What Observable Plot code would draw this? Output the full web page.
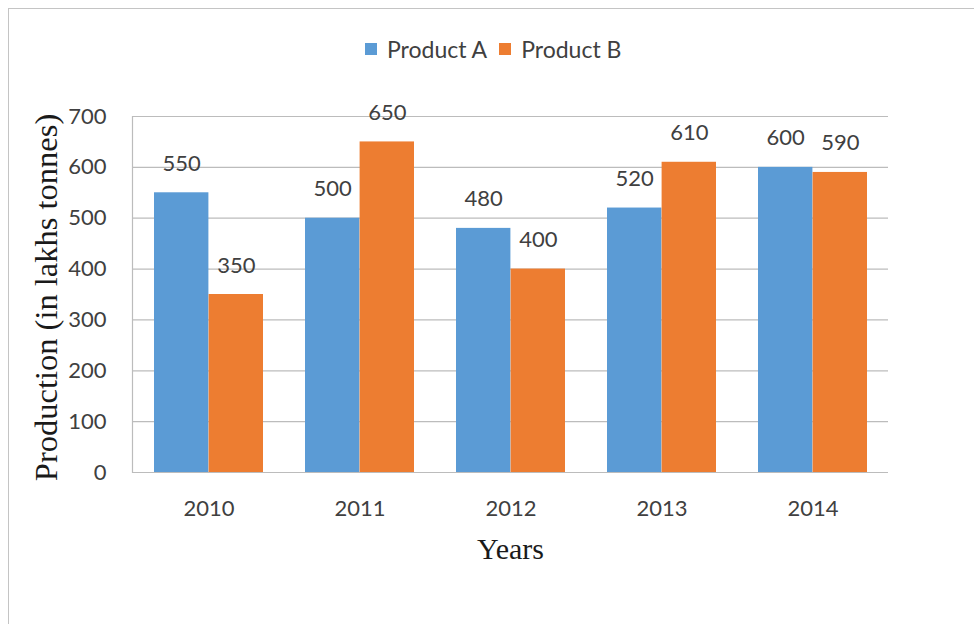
<!DOCTYPE html>
<html>
<head>
<meta charset="utf-8">
<script src="https://cdn.jsdelivr.net/npm/d3@7"></script>
<script src="https://cdn.jsdelivr.net/npm/@observablehq/plot@0.6"></script>
<style>
  html, body { margin: 0; padding: 0; background: #fff; }
  #wrap { position: relative; width: 974px; height: 624px; overflow: hidden; }
  #border { position: absolute; left: 8px; top: 8px; width: 1000px; height: 1000px;
            border-top: 1.5px solid #c4c4c4; border-left: 1.5px solid #c4c4c4; }
  #legend { position: absolute; left: 365px; top: 34px; height: 30px; display: flex; align-items: center;
            font-family: Lato, "Open Sans", sans-serif; font-size: 23px; color: #404040; }
  .sw { display: inline-block; width: 12px; height: 12px; margin-right: 10px; }
  .item { display: flex; align-items: center; margin-right: 12px; }
  #chart { position: absolute; left: 0; top: 96px; }
</style>
</head>
<body>
<div id="wrap">
  <div id="border"></div>
  <div id="legend"></div>
  <div id="chart"></div>
</div>
<script>
const years = ["2010", "2011", "2012", "2013", "2014"];
const productA = [550, 500, 480, 520, 600];
const productB = [350, 650, 400, 610, 590];
const seriesNames = ["Product A", "Product B"];
const seriesColors = ["#5B9BD5", "#ED7D31"];
const yTicks = [0, 100, 200, 300, 400, 500, 600, 700];

const rowsA = years.map((y, i) => ({year: y, product: seriesNames[0], value: productA[i]}));
const rowsB = years.map((y, i) => ({year: y, product: seriesNames[1], value: productB[i]}));

// legend
const legend = document.getElementById("legend");
seriesNames.forEach((n, i) => {
  const it = document.createElement("span");
  it.className = "item";
  const sw = document.createElement("span");
  sw.className = "sw";
  sw.style.background = seriesColors[i];
  it.appendChild(sw);
  it.appendChild(document.createTextNode(n));
  legend.appendChild(it);
});

const chart = Plot.plot({
  width: 974,
  height: 528,
  marginTop: 20,
  marginLeft: 132,
  marginRight: 86,
  marginBottom: 152,
  style: {fontFamily: "Lato, 'Open Sans', sans-serif", fontSize: "22px", color: "#404040", background: "transparent", overflow: "visible"},
  x: {domain: years, padding: 0, label: null, tickSize: 0, tickPadding: 28},
  y: {domain: [0, 700], ticks: yTicks, label: null, tickSize: 0, tickPadding: 26},
  color: {domain: seriesNames, range: seriesColors},
  marks: [
    Plot.ruleY(yTicks, {stroke: "#bcbcbc", strokeWidth: 1.2}),
    Plot.frame({anchor: "left", stroke: "#bcbcbc", strokeWidth: 1.2}),
    Plot.barY(rowsA, {x: "year", y: "value", fill: "product", insetLeft: 21, insetRight: 75.6}),
    Plot.barY(rowsB, {x: "year", y: "value", fill: "product", insetLeft: 75.6, insetRight: 21}),
    Plot.text(rowsA, {x: "year", y: "value", text: d => String(d.value), dx: -27.3, dy: -22, lineAnchor: "bottom", fill: "#404040"}),
    Plot.text(rowsB, {x: "year", y: "value", text: d => String(d.value), dx: 27.3, dy: -22, lineAnchor: "bottom", fill: "#404040"}),
    Plot.text(["Production (in lakhs tonnes)"], {frameAnchor: "left", textAnchor: "middle", dx: -86, dy: 3, rotate: -90, fontFamily: "'Liberation Serif', 'DejaVu Serif', serif", fontSize: 32.5, fill: "#1a1a1a"}),
    Plot.text(["Years"], {frameAnchor: "bottom", dy: 86, fontFamily: "'Liberation Serif', 'DejaVu Serif', serif", fontSize: 30, fill: "#1a1a1a"})
  ]
});
document.getElementById("chart").appendChild(chart);
</script>
</body>
</html>
